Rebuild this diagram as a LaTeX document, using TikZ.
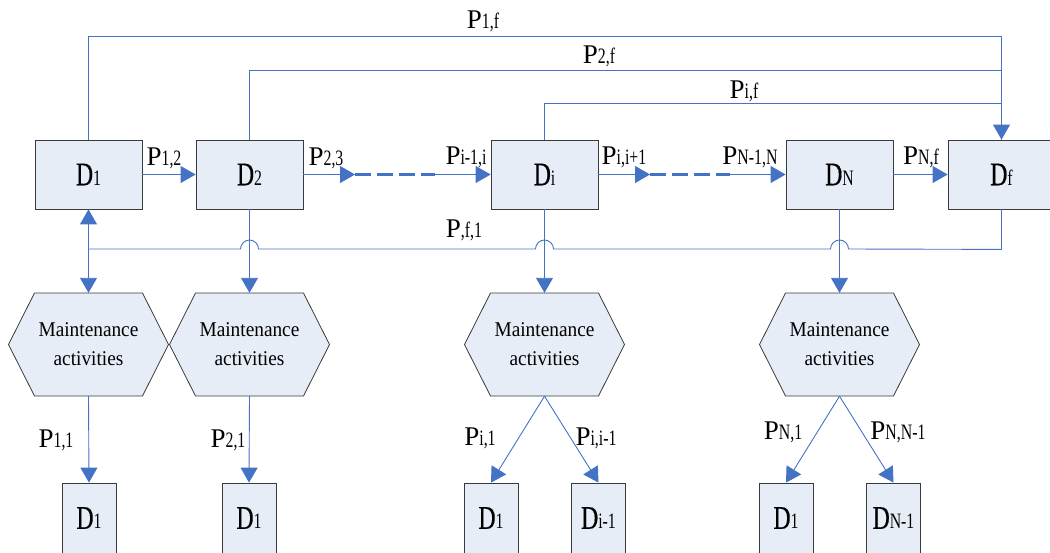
\documentclass[tikz,border=0pt]{standalone}
\usepackage{fontspec}
\setmainfont{Liberation Serif}
\newfontfamily\narrowfont[FakeStretch=0.72]{Liberation Serif}
\newfontfamily\statefont[FakeStretch=0.72,FakeBold=0.5]{Liberation Serif}
\newfontfamily\hexfont[FakeStretch=0.92]{Liberation Serif}
\usetikzlibrary{arrows.meta,calc}

\definecolor{flow}{HTML}{4472C4}
\definecolor{boxfill}{HTML}{E7EDF7}
\definecolor{boxline}{HTML}{3A3A3A}

% state names: large D with a small index on the baseline
\newcommand\Dn[1]{{\statefont\fontsize{33}{33}\selectfont D}{\narrowfont\fontsize{22}{22}\selectfont #1}}
% transition probabilities
\newcommand\Pn[1]{{\fontsize{27}{27}\selectfont P}{\narrowfont\fontsize{22}{22}\selectfont #1}}

\tikzset{
  state/.style={draw=boxline, fill=boxfill, line width=0.8pt, inner sep=0pt,
                minimum width=107pt, minimum height=69pt},
  target/.style={state, minimum width=54pt, minimum height=70pt},
  hexshape/.style={draw=boxline, fill=boxfill, line width=0.8pt},
  hexlabel/.style={inner sep=0pt, minimum width=108pt, minimum height=103pt,
                   align=center, font=\hexfont\fontsize{21}{29}\selectfont},
  flowline/.style={draw=flow, line width=0.9pt},
  flowarrow/.style={flowline, -{Triangle[length=15pt,width=17pt]}},
  dashflow/.style={draw=flow, line width=3.5pt, dash pattern=on 16pt off 6pt},
  plabel/.style={inner sep=0pt, anchor=base},
}

% hexagonal "maintenance" block: name, centre x
\newcommand\hexnode[2]{%
  \draw[hexshape] ({#2-54},-293) -- ({#2+54},-293) -- ({#2+80},-344.5)
     -- ({#2+54},-396) -- ({#2-54},-396) -- ({#2-80},-344.5) -- cycle;
  \node[hexlabel] (#1) at (#2,-344.5) {Maintenance\\activities};
}

\begin{document}
\begin{tikzpicture}[x=1pt,y=1pt]
\useasboundingbox (0,0) rectangle (1050,-552);

% degradation states
\node[state] (D1) at (88.5,-174.5) {\Dn{1}};
\node[state] (D2) at (249.5,-174.5) {\Dn{2}};
\node[state] (Di) at (544.5,-174.5) {\Dn{i}};
\node[state] (DN) at (839.5,-174.5) {\Dn{N}};
\node[state] (Df) at (1001.5,-174.5) {\Dn{f}};

% direct jumps to the failure state
\draw[flowline] (D2.north) -- ++(0,69) -| (Df.north);
\draw[flowline] (Di.north) -- ++(0,36) -| (Df.north);
\draw[flowarrow] (D1.north) -- ++(0,103) -| (Df.north);

% forward transitions
\coordinate (a23) at (355,-174.5);
\coordinate (b23) at (435,-174.5);
\coordinate (ai) at (650,-174.5);
\coordinate (bi) at (730,-174.5);
\draw[flowarrow] (D1.east) -- (D2.west);
\draw[flowarrow] (D2.east) -- (a23);
\draw[dashflow] (a23) -- (b23);
\draw[flowarrow] (b23) -- (Di.west);
\draw[flowarrow] (Di.east) -- (ai);
\draw[dashflow] (ai) -- (bi);
\draw[flowarrow] (bi) -- (DN.west);
\draw[flowarrow] (DN.east) -- (Df.west);

% return from failure to the first state, hopping over the drops
\coordinate (fb) at (88.5,-249);
\draw[flowline] (Df.south) -- ++(0,-40) -- (848.5,-249)
   arc[start angle=0,end angle=180,radius=9] -- (553.5,-249)
   arc[start angle=0,end angle=180,radius=9] -- (258.5,-249)
   arc[start angle=0,end angle=180,radius=9] -- (fb);
\draw[flowarrow] (fb) -- (D1.south);

% maintenance blocks
\hexnode{H1}{88.5}
\hexnode{H2}{249.5}
\hexnode{H3}{544.5}
\hexnode{H4}{839.5}

\draw[flowarrow] (fb) -- (H1.north);
\draw[flowarrow] (D2.south) -- (H2.north);
\draw[flowarrow] (Di.south) -- (H3.north);
\draw[flowarrow] (DN.south) -- (H4.north);

% states reached after maintenance
\node[target] (B1) at (89,-518) {\Dn{1}};
\node[target] (B2) at (249,-518) {\Dn{1}};
\node[target] (B3) at (491,-518) {\Dn{1}};
\node[target] (B4) at (598.5,-518) {\Dn{i-1}};
\node[target] (B5) at (786,-518) {\Dn{1}};
\node[target] (B6) at (893.5,-518) {\Dn{N-1}};

\draw[flowarrow] (H1.south) -- (B1.north);
\draw[flowarrow] (H2.south) -- (B2.north);
\draw[flowarrow] (H3.south) -- (B3.north);
\draw[flowarrow] (H3.south) -- (B4.north);
\draw[flowarrow] (H4.south) -- (B5.north);
\draw[flowarrow] (H4.south) -- (B6.north);

% probabilities
\node[plabel] (p12) at (164,-165) {\Pn{1,2}};
\node[plabel] (p23) at (326,-165) {\Pn{2,3}};
\node[plabel] (pii) at (466,-164) {\Pn{i-1,i}};
\node[plabel] (pin) at (624,-164) {\Pn{i,i+1}};
\node[plabel] (pnn) at (750,-164) {\Pn{N-1,N}};
\node[plabel] (pnf) at (921,-164) {\Pn{N,f}};
\node[plabel] (p1f) at (483,-28) {\Pn{1,f}};
\node[plabel] (p2f) at (599,-63) {\Pn{2,f}};
\node[plabel] (pif) at (744,-98) {\Pn{i,f}};
\node[plabel] (pf1) at (464,-237) {\Pn{,f,1}};
\node[plabel] (p11) at (56,-447) {\Pn{1,1}};
\node[plabel] (p21) at (228,-447) {\Pn{2,1}};
\node[plabel] (pi1) at (480,-445) {\Pn{i,1}};
\node[plabel] (pim) at (596,-445) {\Pn{i,i-1}};
\node[plabel] (pn1) at (783,-439) {\Pn{N,1}};
\node[plabel] (pnm) at (898,-439) {\Pn{N,N-1}};
\end{tikzpicture}
\end{document}
